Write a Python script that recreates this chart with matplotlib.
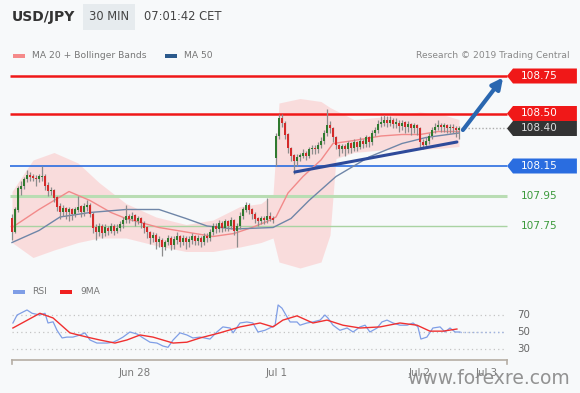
import numpy as np
import matplotlib
matplotlib.use("Agg")
import matplotlib.pyplot as plt
from matplotlib.patches import Polygon, Rectangle

# --- data ----------------------------------------------------------------
# 30 min candles, index 0 = first candle on the left
opens = [
    107.80, 107.71, 107.86, 108.00, 108.02, 108.06, 108.09, 108.08, 108.07, 108.06,
    108.08, 108.08, 108.02, 107.98, 107.99, 107.94, 107.88, 107.84, 107.87, 107.84,
    107.86, 107.83, 107.86, 107.88, 107.84, 107.88, 107.89, 107.83, 107.74, 107.71,
    107.75, 107.70, 107.74, 107.72, 107.75, 107.72, 107.74, 107.76, 107.79, 107.82,
    107.80, 107.82, 107.78, 107.80, 107.77, 107.74, 107.71, 107.67, 107.69, 107.64,
    107.66, 107.61, 107.64, 107.67, 107.62, 107.66, 107.68, 107.64, 107.67, 107.64,
    107.66, 107.68, 107.65, 107.67, 107.64, 107.68, 107.67, 107.71, 107.75, 107.73,
    107.77, 107.74, 107.78, 107.75, 107.79, 107.72, 107.75, 107.82, 107.86, 107.89,
    107.86, 107.83, 107.80, 107.78, 107.80, 107.79, 107.82, 107.80,
    108.20, 108.35, 108.47, 108.44, 108.36, 108.27, 108.22, 108.18, 108.21, 108.22,
    108.24, 108.22, 108.26, 108.27, 108.26, 108.29, 108.32, 108.37, 108.42, 108.40,
    108.34, 108.29, 108.26, 108.28, 108.26, 108.30, 108.27, 108.31, 108.28, 108.32,
    108.30, 108.34, 108.31, 108.37, 108.39, 108.43, 108.44, 108.46, 108.44, 108.46,
    108.43, 108.44, 108.42, 108.44, 108.41, 108.43, 108.40, 108.42, 108.40, 108.31,
    108.29, 108.32, 108.35, 108.39, 108.41, 108.42, 108.41, 108.42, 108.40, 108.41,
    108.40, 108.39]
closes = [
    107.71, 107.86, 108.00, 108.02, 108.06, 108.09, 108.08, 108.07, 108.06, 108.08,
    108.08, 108.02, 107.98, 107.99, 107.94, 107.88, 107.84, 107.87, 107.84, 107.86,
    107.83, 107.86, 107.88, 107.84, 107.88, 107.89, 107.83, 107.74, 107.71, 107.75,
    107.70, 107.74, 107.72, 107.75, 107.72, 107.74, 107.76, 107.79, 107.82, 107.80,
    107.82, 107.78, 107.80, 107.77, 107.74, 107.71, 107.67, 107.69, 107.64, 107.66,
    107.61, 107.64, 107.67, 107.62, 107.66, 107.68, 107.64, 107.67, 107.64, 107.66,
    107.68, 107.65, 107.67, 107.64, 107.68, 107.67, 107.71, 107.75, 107.73, 107.77,
    107.74, 107.78, 107.75, 107.79, 107.72, 107.75, 107.82, 107.86, 107.89, 107.86,
    107.83, 107.80, 107.78, 107.80, 107.79, 107.82, 107.80, 107.79,
    108.35, 108.47, 108.44, 108.36, 108.27, 108.22, 108.18, 108.21, 108.22, 108.24,
    108.22, 108.26, 108.27, 108.26, 108.29, 108.32, 108.37, 108.42, 108.40, 108.34,
    108.29, 108.26, 108.28, 108.26, 108.30, 108.27, 108.31, 108.28, 108.32, 108.30,
    108.34, 108.31, 108.37, 108.39, 108.43, 108.44, 108.46, 108.44, 108.46, 108.43,
    108.44, 108.42, 108.44, 108.41, 108.43, 108.40, 108.42, 108.40, 108.31, 108.29,
    108.32, 108.35, 108.39, 108.41, 108.42, 108.41, 108.42, 108.40, 108.41, 108.40,
    108.39, 108.40]
highs = [
    107.83, 107.88, 108.02, 108.05, 108.08, 108.12, 108.11, 108.10, 108.09, 108.10,
    108.15, 108.10, 108.04, 108.01, 108.00, 107.95, 107.90, 107.89, 107.88, 107.88,
    107.87, 107.88, 107.95, 107.89, 107.90, 107.92, 107.90, 107.84, 107.76, 107.77,
    107.76, 107.76, 107.75, 107.77, 107.76, 107.76, 107.78, 107.81, 107.89, 107.83,
    107.84, 107.83, 107.82, 107.81, 107.78, 107.75, 107.72, 107.71, 107.70, 107.68,
    107.67, 107.66, 107.69, 107.68, 107.68, 107.71, 107.69, 107.69, 107.68, 107.68,
    107.70, 107.69, 107.69, 107.68, 107.70, 107.70, 107.73, 107.77, 107.77, 107.79,
    107.78, 107.80, 107.79, 107.81, 107.80, 107.77, 107.84, 107.88, 107.91, 107.90,
    107.87, 107.84, 107.81, 107.82, 107.82, 107.94, 107.84, 107.82,
    108.37, 108.50, 108.50, 108.45, 108.37, 108.28, 108.23, 108.23, 108.24, 108.26,
    108.25, 108.28, 108.29, 108.29, 108.31, 108.34, 108.39, 108.53, 108.45, 108.41,
    108.35, 108.30, 108.30, 108.30, 108.32, 108.31, 108.33, 108.32, 108.34, 108.33,
    108.36, 108.35, 108.39, 108.41, 108.46, 108.48, 108.49, 108.48, 108.48, 108.47,
    108.47, 108.46, 108.46, 108.45, 108.45, 108.44, 108.44, 108.43, 108.41, 108.33,
    108.34, 108.37, 108.41, 108.44, 108.46, 108.44, 108.44, 108.43, 108.43, 108.43,
    108.42, 108.42]
lows = [
    107.66, 107.70, 107.84, 107.96, 108.00, 108.04, 108.05, 108.05, 108.02, 108.04,
    108.05, 107.99, 107.95, 107.96, 107.91, 107.85, 107.80, 107.82, 107.80, 107.78,
    107.79, 107.81, 107.84, 107.81, 107.82, 107.85, 107.81, 107.70, 107.66, 107.68,
    107.67, 107.68, 107.69, 107.70, 107.69, 107.70, 107.72, 107.74, 107.77, 107.77,
    107.78, 107.75, 107.76, 107.74, 107.70, 107.67, 107.63, 107.64, 107.60, 107.61,
    107.55, 107.59, 107.62, 107.59, 107.60, 107.63, 107.61, 107.62, 107.60, 107.61,
    107.63, 107.62, 107.62, 107.61, 107.62, 107.64, 107.65, 107.69, 107.70, 107.71,
    107.71, 107.72, 107.72, 107.73, 107.69, 107.61, 107.73, 107.80, 107.84, 107.83,
    107.80, 107.77, 107.75, 107.76, 107.76, 107.77, 107.78, 107.77,
    108.15, 108.33, 108.41, 108.33, 108.24, 108.18, 108.10, 108.15, 108.18, 108.20,
    108.19, 108.20, 108.23, 108.23, 108.24, 108.27, 108.30, 108.35, 108.37, 108.31,
    108.26, 108.22, 108.24, 108.22, 108.24, 108.24, 108.25, 108.25, 108.26, 108.27,
    108.28, 108.28, 108.29, 108.35, 108.37, 108.41, 108.42, 108.41, 108.42, 108.40,
    108.40, 108.38, 108.39, 108.37, 108.38, 108.36, 108.37, 108.36, 108.27, 108.26,
    108.27, 108.30, 108.33, 108.37, 108.39, 108.38, 108.38, 108.37, 108.37, 108.37,
    108.34, 108.33]

# bollinger bands (MA 20), sampled at candle indices
band_x = [0, 7, 14, 22, 29, 38, 48, 58, 67, 76, 83, 87, 89, 96, 103, 106, 108, 114, 125, 136, 144, 149]
band_up = [107.98, 108.19, 108.24, 108.17, 108.04, 107.90, 107.81, 107.76, 107.79, 107.88, 107.90,
           107.96, 108.57, 108.60, 108.58, 108.54, 108.52, 108.46, 108.48, 108.51, 108.49, 108.46]
band_lo = [107.64, 107.54, 107.59, 107.64, 107.67, 107.67, 107.62, 107.58, 107.58, 107.61, 107.64,
           107.67, 107.51, 107.47, 107.51, 107.69, 108.20, 108.24, 108.26, 108.26, 108.27, 108.28]

ma20_x = [0, 9, 19, 26, 33, 38, 49, 58, 67, 74, 80, 85, 88, 92, 97, 103, 107, 114, 123, 130, 136, 142, 149]
ma20 = [107.74, 107.86, 107.98, 107.92, 107.84, 107.80, 107.74, 107.71, 107.68, 107.70, 107.74, 107.78,
        107.81, 107.97, 108.08, 108.19, 108.30, 108.32, 108.35, 108.36, 108.36, 108.38, 108.38]

ma50_x = [0, 9, 16, 26, 38, 49, 58, 65, 74, 87, 93, 99, 108, 119, 130, 138, 149]
ma50 = [107.64, 107.72, 107.81, 107.84, 107.86, 107.86, 107.80, 107.75, 107.73, 107.74, 107.80,
        107.92, 108.08, 108.21, 108.30, 108.34, 108.37]

# trend line and projected move
trend_x = [94.3, 148.3]
trend_y = [108.11, 108.31]
arrow_from = (150.3, 108.39)
arrow_to = (163.7, 108.74)

levels = [108.75, 108.50, 108.40, 108.15, 107.95, 107.75]
level_labels = ["108.75", "108.50", "108.40", "108.15", "107.95", "107.75"]

rsi_x = [0.3, 1.7, 5, 6.7, 9.3, 11, 12, 13.7, 15, 16.7, 18.3, 20.3, 22.7, 24.3, 26, 28.3, 31.7,
         33.7, 35.3, 37, 39.3, 41.7, 43.7, 46, 48.3, 50.3, 52, 53.7, 56, 58.3, 60.3, 62.7, 66,
         68.3, 70.3, 72.7, 73.7, 76, 78.3, 80.3, 82, 84.3, 86.7, 87.7, 88.7, 90, 91.7, 92.7, 95,
         96, 98.3, 100.3, 102.7, 104.3, 105.3, 107, 109.3, 111.7, 113.7, 116, 117.7, 119.3,
         121.7, 123.3, 125, 127, 129.3, 131.7, 133.7, 135.3, 136.3, 138.3, 140.3, 142.7, 144.3,
         146, 147.7, 149.3]
rsi = [60.6, 70, 75.9, 72, 70, 72, 60.6, 62, 52, 43, 44, 44, 46.5, 49, 40.6, 37, 37,
       38, 40.6, 44, 50, 47.6, 43, 38, 37, 33.5, 32, 40.6, 49, 46.5, 43, 44, 41.7,
       50, 56, 54.7, 49, 60.6, 61.8, 60.6, 50, 52, 56, 58, 81.8, 78, 67.6, 61.8, 61.8,
       58, 60.6, 61.8, 64, 70, 66.5, 58, 52, 54.7, 50, 56, 58, 50,
       54.7, 61.8, 64, 60.6, 58, 58, 60.6, 56, 41.7, 44, 54.7, 56, 50,
       54.7, 50, 50]
rsi_ma_x = [0.3, 9.3, 13.7, 19.3, 25, 29.3, 34.3, 38.3, 42.7, 47, 53.7, 58.3, 62.7, 69.3, 76,
            82.7, 87, 90.3, 95, 100.3, 105, 110.3, 116, 122.7, 129.3, 135, 139.3, 143.7, 148.3]
rsi_ma = [54.7, 72, 66.5, 49, 44, 40.6, 37, 40.6, 46.5, 44, 37, 38, 43, 49, 56,
          60.6, 56, 64, 69, 60.6, 64, 58, 54.7, 56, 60.6, 58, 51, 51, 53.5]
rsi_levels = [70, 50, 30]

date_ticks = [41, 88.3, 136, 158.3]
date_labels = ["Jun 28", "Jul 1", "Jul 2", "Jul 3"]

# --- figure ---------------------------------------------------------------
W, H = 580, 393
fig = plt.figure(figsize=(W / 100, H / 100), dpi=100, facecolor="#f7f9fa")
plt.rcParams["font.family"] = ["DejaVu Sans"]


def fx(px):
    return px / W


def fy(py):
    return 1 - py / H


# price panel, x = candle index; px = 12 + 3 * index
x_lo, x_hi = -4, (580 - 12) / 3
ax = fig.add_axes([0, fy(275), 1, fy(60) - fy(275)])
ax.set_xlim(x_lo, x_hi)
ax.set_ylim(108.75 - 199 / 150, 108.75 + 16 / 150)
ax.axis("off")

ax.fill_between(band_x, band_lo, band_up, color="#fbd3d3", alpha=0.75, lw=0, zorder=1)
ax.plot(ma20_x, ma20, color="#f28a8a", lw=1.0, zorder=3)
ax.plot(ma50_x, ma50, color="#6f86a8", lw=1.0, zorder=3)

line_end = 165
ax.hlines([levels[0], levels[1]], -0.7, line_end, color="#f01818", lw=1.8, zorder=2)
ax.hlines(levels[3], -0.7, line_end, color="#2a6de0", lw=1.2, zorder=2)
ax.hlines(levels[4], -0.7, line_end, color="#b9ddb3", lw=2.2, zorder=2)
ax.hlines(levels[5], -0.7, line_end, color="#a9d3a2", lw=1.0, zorder=2)
ax.hlines(levels[2], len(closes) - 0.5, line_end, color="#aaaaaa", lw=1.0,
          linestyles=(0, (1, 1.5)), zorder=2)

o = np.array(opens)
c = np.array(closes)
idx = np.arange(len(c))
up = c >= o
ax.vlines(idx, lows, highs, color="#8c8c8c", lw=0.9, zorder=4)
body_lo = np.minimum(o, c)
body_h = np.maximum(np.abs(c - o), 0.006)
ax.bar(idx[up], body_h[up], bottom=body_lo[up], width=0.7, color="#2f7a2f", lw=0, zorder=5)
ax.bar(idx[~up], body_h[~up], bottom=body_lo[~up], width=0.7, color="#d42a2a", lw=0, zorder=5)

ax.plot(trend_x, trend_y, color="#2d4a9a", lw=2.2, solid_capstyle="round", zorder=6)
ax.annotate("", xy=arrow_to, xytext=arrow_from,
            arrowprops=dict(arrowstyle="-|>", color="#2a67b0", lw=3, mutation_scale=16,
                            shrinkA=0, shrinkB=0), zorder=6)

# level tags on the right
tag_fill = {"108.75": "#f01818", "108.50": "#f01818", "108.40": "#333333", "108.15": "#2a6de0"}
hh = 7.5 / 150
for lv, txt in zip(levels, level_labels):
    if txt in tag_fill:
        pts = [(165, lv), (167, lv + hh), (188.3, lv + hh), (188.3, lv - hh), (167, lv - hh)]
        ax.add_patch(Polygon(pts, closed=True, color=tag_fill[txt], lw=0, clip_on=False, zorder=7))
        tcol = "#dddddd" if txt == "108.40" else "white"
        ax.text(169.5, lv, txt, color=tcol, fontsize=7.6, va="center", ha="left", zorder=8)
    else:
        ax.text(169.5, lv, txt, color="#3c9a3c", fontsize=7.6, va="center", ha="left", zorder=8)

# RSI panel
rax = fig.add_axes([0, fy(365), 1, fy(300) - fy(365)])
rax.set_xlim(x_lo, x_hi)
rax.set_ylim(50 - 33 / 0.85, 50 + 32 / 0.85)
rax.axis("off")
rax.hlines(rsi_levels, 0, 164, color="#c4c4c4", lw=0.9, linestyles=(0, (1, 2.5)))
rax.hlines(rsi[-1], rsi_x[-1], 164, color="#9fb3e2", lw=1.0, linestyles=(0, (1, 2)))
rax.plot(rsi_x, rsi, color="#7f9ee6", lw=0.9, zorder=3)
rax.plot(rsi_ma_x, rsi_ma, color="#f03030", lw=1.0, zorder=4)
for lv in rsi_levels:
    rax.text(168.5, lv, str(lv), color="#666666", fontsize=7.4, va="center", ha="left")

# time axis
fig.add_artist(plt.Line2D([fx(12), fx(507)], [fy(360), fy(360)], color="#b5aea4", lw=1.2))
for px in (12, 507):
    fig.add_artist(plt.Line2D([fx(px), fx(px)], [fy(360), fy(364)], color="#b5aea4", lw=1.2))
for t, lab in zip(date_ticks, date_labels):
    fig.text(fx(12 + 3 * t), fy(373), lab, color="#7a7a7a", fontsize=7.4, ha="center", va="center")

# header
fig.text(fx(12), fy(17), "USD/JPY", fontsize=10, fontweight="bold", color="#333333", va="center")
fig.text(fx(109), fy(17), "30 MIN", fontsize=8.3, color="#444444", va="center", ha="center",
         bbox=dict(boxstyle="square,pad=0.55", fc="#e6ebee", ec="none"))
fig.text(fx(144), fy(17), "07:01:42 CET", fontsize=8.3, color="#444444", va="center")

# legends
fig.add_artist(Rectangle((fx(13), fy(58)), fx(12), fy(54) - fy(58), color="#f58a8a", lw=0))
fig.text(fx(32), fy(56), "MA 20 + Bollinger Bands", fontsize=6.6, color="#777777", va="center")
fig.add_artist(Rectangle((fx(165), fy(58)), fx(12), fy(54) - fy(58), color="#2b5a8c", lw=0))
fig.text(fx(184), fy(56), "MA 50", fontsize=6.6, color="#777777", va="center")
fig.text(fx(570), fy(56), "Research \u00a9 2019 Trading Central", fontsize=6.6, color="#888888",
         va="center", ha="right")

fig.add_artist(Rectangle((fx(13), fy(294)), fx(12), fy(290) - fy(294), color="#7f9ee6", lw=0))
fig.text(fx(32), fy(292), "RSI", fontsize=6.6, color="#777777", va="center")
fig.add_artist(Rectangle((fx(60), fy(294)), fx(12), fy(290) - fy(294), color="#f02020", lw=0))
fig.text(fx(80), fy(292), "9MA", fontsize=6.6, color="#777777", va="center")

# watermark
fig.text(fx(570), fy(379), "www.forexre.com", fontsize=13.5, color="#808080", alpha=0.85,
         ha="right", va="center")

fig.savefig("out.png", dpi=100, facecolor=fig.get_facecolor())
